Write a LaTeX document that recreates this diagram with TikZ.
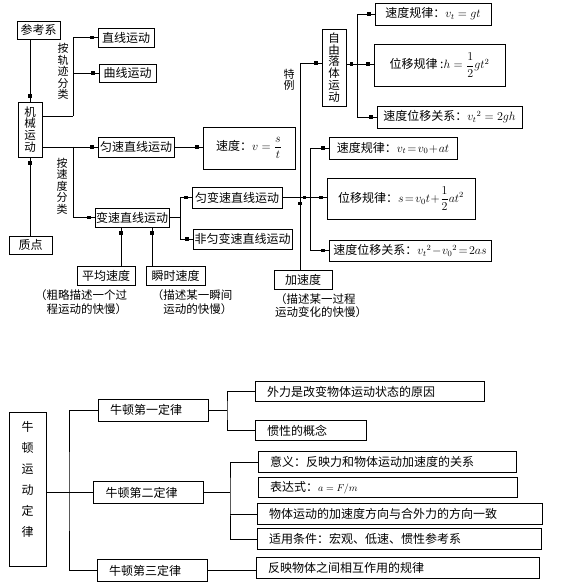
\documentclass[tikz,border=0pt]{standalone}
\usepackage{amsmath}
\usepackage[no-math]{fontspec}
\setmainfont{Noto Sans CJK SC}
\usetikzlibrary{arrows.meta}

\tikzset{
  box/.style={draw, inner sep=0pt, align=center, font=\fontsize{12}{14}\selectfont},
  vbox/.style={draw, inner sep=0pt, align=center, font=\fontsize{11.5}{11.8}\selectfont},
  tall/.style={draw, inner sep=0pt, align=center, font=\fontsize{12}{21}\selectfont},
  vlab/.style={inner sep=0pt, align=center, font=\fontsize{11}{11.5}\selectfont},
  note/.style={inner sep=0pt, font=\fontsize{11.5}{13.5}\selectfont},
  law/.style={draw, minimum height=22pt, text width=86pt, inner xsep=12pt, inner ysep=0pt, align=left, font=\fontsize{12}{14}\selectfont},
  item/.style={draw, minimum height=20.5pt, inner xsep=12pt, inner ysep=0pt, align=left, font=\fontsize{12}{14}\selectfont},
  lk/.style={postaction={draw, shorten >=4pt, -{Square[length=3.5pt,width=3.2pt]}}},
}

\begin{document}
\begin{tikzpicture}[x=1pt, y=-1pt, line width=0.8pt]
\useasboundingbox (0,0) rectangle (566,585);

% mechanical motion
\node[box, minimum width=43pt, minimum height=18pt] (ckx) at (38.5,30) {参考系};
\node[vbox, minimum width=24pt, minimum height=55pt] (jx) at (30,129.5) {机\\械\\运\\动};
\node[box, minimum width=43pt, minimum height=18pt] (zd) at (30.5,245) {质点};
\node[box, minimum width=56pt, minimum height=19pt] (zx) at (126,37.5) {直线运动};
\node[box, minimum width=57pt, minimum height=18pt] (qx) at (127.5,73) {曲线运动};
\node[box, minimum width=76pt, minimum height=20pt] (yszx) at (136,147) {匀速直线运动};
\node[box, minimum width=92pt, minimum height=42pt] (sd) at (249,148) {速度：$v=\dfrac{s}{t}$};
\node[box, minimum width=74pt, minimum height=19pt] (bs) at (132,217.5) {变速直线运动};
\node[box, minimum width=90pt, minimum height=21pt] (ybs) at (237,197.5) {匀变速直线运动};
\node[box, minimum width=99pt, minimum height=20pt] (fybs) at (242.5,239) {非匀变速直线运动};
\node[box, minimum width=58pt, minimum height=19pt] (pj) at (106,275.5) {平均速度};
\node[box, minimum width=59pt, minimum height=19pt] (ss) at (175.5,275.5) {瞬时速度};
\node[box, minimum width=58pt, minimum height=19pt] (jsd) at (303,279.5) {加速度};

\node[vbox, minimum width=24pt, minimum height=77pt] (zyl) at (334,67.5) {自\\由\\落\\体\\运\\动};
\node[box, minimum width=116pt, minimum height=22pt] (g1) at (433,14) {速度规律：$v_t=gt$};
\node[box, minimum width=131pt, minimum height=42pt] (g2) at (439.5,65) {位移规律 :$h=\dfrac{1}{2}gt^2$};
\node[box, minimum width=145pt, minimum height=22pt] (g3) at (449.5,117) {速度位移关系：${v_t}^2=2gh$};
\node[box, minimum width=128pt, minimum height=22pt] (a1) at (393,148) {速度规律：$v_t\!=\!v_0\!+\!at$};
\node[box, minimum width=148pt, minimum height=41pt] (a2) at (401,198.5) {位移规律：$s\!=\!v_0t\!+\!\dfrac{1}{2}at^2$};
\node[box, minimum width=162pt, minimum height=21pt] (a3) at (410,250.5) {速度位移关系：${v_t}^2\!-\!{v_0}^2\!=\!2as$};

\node[vlab] (l1) at (63,71.5) {按\\轨\\迹\\分\\类};
\node[vlab] (l2) at (62,186) {按\\速\\度\\分\\类};
\node[vlab] (l3) at (289,80) {特\\例};
\node[note, align=right] (npj) at (81,302) {（粗略描述一个过\\程运动的快慢）};
\node[note, align=right] (nss) at (192,302) {（描述某一瞬间\\运动的快慢）};
\node[note, align=left] (njsd) at (321,305.5) {（描述某一过程\\运动变化的快慢）};

\coordinate (b1) at (73,116);
\coordinate (b2) at (180,217.5);
\coordinate (b3) at (310,197.5);
\coordinate (b4) at (300,197.5);
\coordinate (b5) at (300,63);
\coordinate (b6) at (357,64);
\coordinate (v1) at (121,0);
\coordinate (v2) at (152,0);

\draw[lk] (jx.north |- ckx.south) -- (jx.north);
\draw[lk] (jx.south |- zd.north) -- (jx.south);
\draw (jx.east |- b1) -- (b1);
\draw[lk] (b1) |- (zx.west);
\draw[lk] (b1 |- qx.west) -- (qx.west);
\draw[lk] (jx.east |- yszx.west) -- (yszx.west);
\draw[lk] (b1 |- yszx.west) |- (bs.west);
\draw[lk] (yszx.east) -- (yszx.east -| sd.west);
\draw (bs.east) -- (b2);
\draw[lk] (b2) |- (ybs.west);
\draw[lk] (b2) |- (fybs.west);
\draw[lk] (v1 |- pj.north) -- (v1 |- bs.south);
\draw[lk] (v2 |- ss.north) -- (v2 |- bs.south);

\draw[lk] (ybs.east) -- (b3);
\draw[lk] (b3) |- (a1.west);
\draw[lk] (b3) -- (b3 -| a2.west);
\draw[lk] (b3) |- (a3.west);
\draw[lk] (b4 |- jsd.north) -- (b4);
\draw[lk] (b4) -- (b5) -- (b5 -| zyl.west);
\draw[lk] (zyl.east |- b6) -- (b6);
\draw[lk] (b6) |- (g1.west);
\draw[lk] (b6) -- (b6 -| g2.west);
\draw[lk] (b6) |- (g3.west);

% Newton's laws
\node[tall, minimum width=37pt, minimum height=154pt] (nd) at (27.5,489) {牛\\顿\\运\\动\\定\\律\\\mbox{}};
\node[law] (n1) at (153,410) {牛顿第一定律};
\node[law] (n2) at (148.5,492.5) {牛顿第二定律};
\node[law] (n3) at (152,570.5) {牛顿第三定律};

\node[item, text width=205pt] (w1) at (369.5,391.5) {外力是改变物体运动状态的原因};
\node[item, text width=87pt] (w2) at (310.5,430.5) {惯性的概念};
\node[item, text width=234pt] (e1) at (387,462) {意义：反映力和物体运动加速度的关系};
\node[item, text width=235pt] (e2) at (387.5,487.5) {表达式：{\fontsize{10}{12}\selectfont$a=F/m$}};
\node[item, text width=261pt] (e3) at (399.5,514) {物体运动的加速度方向与合外力的方向一致};
\node[item, text width=260pt] (e4) at (399,539) {适用条件：宏观、低速、惯性参考系};
\node[item, text width=259pt] (t1) at (397.5,568) {反映物体之间相互作用的规律};

\coordinate (c1) at (69,492.5);
\coordinate (c2) at (227,410);
\coordinate (c3) at (230,492.5);

\draw (nd.east |- c1) -- (n2.west);
\draw (n1.west) -| (c1) |- (n3.west);
\draw (n1.east) -- (c2);
\draw (w1.west) -| (c2) |- (w2.west);
\draw (n2.east) -- (c3);
\draw (e1.west) -| (c3) |- (e4.west);
\draw (c3 |- e3.west) -- (e3.west);
\draw (n3.east) -- (n3.east -| t1.west);
\end{tikzpicture}
\end{document}
